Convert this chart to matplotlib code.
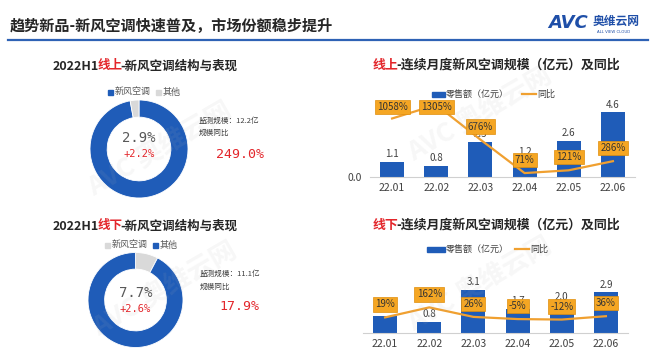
import matplotlib
matplotlib.use('Agg')
import matplotlib.pyplot as plt
from matplotlib.patches import Rectangle

plt.rcParams['font.family'] = ['Noto Sans CJK SC', 'DejaVu Sans']

# data
months = ['22.01', '22.02', '22.03', '22.04', '22.05', '22.06']
online_sales = [1.1, 0.8, 2.5, 1.2, 2.6, 4.6]
online_yoy = [1058, 1305, 676, 71, 121, 286]
offline_sales = [1.2, 0.8, 3.1, 1.7, 2.0, 2.9]
offline_yoy = [19, 162, 26, -5, -12, 36]

pie_labels = ['新风空调', '其他']
online_share = [97.1, 2.9]
offline_share = [7.7, 92.3]

blue = '#1F5CB8'
gray = '#D9D9D9'
orange = '#F0A030'
box_orange = '#F5A623'
red = '#E3262B'
dark = '#404040'

W, H = 660, 354
fig = plt.figure(figsize=(W / 100, H / 100), dpi=100)


def px_axes(x0, y0, x1, y1, **kw):
    return fig.add_axes([x0 / W, 1 - y1 / H, (x1 - x0) / W, (y1 - y0) / H], **kw)


# overlay in pixel coords for titles, legends, decorations
ov = px_axes(0, 0, W, H, zorder=10)
ov.set_xlim(0, W)
ov.set_ylim(H, 0)
ov.axis('off')
ov.patch.set_alpha(0)

# faint watermarks
for (wx, wy) in [(160, 150), (480, 115), (480, 285), (165, 290)]:
    ov.text(wx, wy, 'AVC 奥维云网', fontsize=19, color='#B0B0B0', alpha=0.1,
            rotation=30, ha='center', va='center', weight='bold', zorder=0)

# header
ov.text(10, 26, '趋势新品-新风空调快速普及，市场份额稳步提升', fontsize=10.9,
        weight='bold', color='#262626', va='center', ha='left')
ov.plot([8, 648], [40, 40], color='#2E62B5', lw=1.6)
ov.text(548, 23, 'AVC', fontsize=13, weight='bold', style='italic', color='#1F4FA8',
        va='center', ha='left', family='DejaVu Sans')
ov.text(593, 21, '奥维云网', fontsize=8.5, weight='bold', color='#1F4FA8',
        va='center', ha='left')
ov.text(614, 32, 'ALL VIEW CLOUD', fontsize=2.8, color='#1F4FA8', va='center', ha='center',
        family='DejaVu Sans')


def mixed_title(x, y, parts, size):
    prev = None
    for txt, col in parts:
        if prev is None:
            prev = ov.text(x, y, txt, fontsize=size, weight='bold', color=col,
                           ha='left', va='center')
        else:
            prev = ov.annotate(txt, xy=(1, 0), xycoords=prev, xytext=(-1.5, 0),
                               textcoords='offset points', fontsize=size,
                               weight='bold', color=col, ha='left', va='bottom')


def donut(cx, cy, r, shares, colors, center_txt, delta_txt, ty):
    ax = px_axes(cx - r, cy - r, cx + r, cy + r)
    ax.pie(shares, colors=colors, startangle=90, counterclock=False,
           wedgeprops=dict(width=0.35, edgecolor='white', linewidth=0.6))
    ax.set_xlim(-1, 1)
    ax.set_ylim(-1, 1)
    ov.text(cx, ty, center_txt, fontsize=10, color='#595959', ha='center', va='center',
            family='DejaVu Sans Mono')
    ov.text(cx, ty + 16, delta_txt, fontsize=7.5, color=red, ha='center', va='center',
            family='DejaVu Sans Mono')


def pie_legend(x, y, colors):
    xs = [x, x + 48]
    for xi, lab, col in zip(xs, pie_labels, colors):
        ov.add_patch(Rectangle((xi, y - 2.5), 5, 5, color=col))
        ov.text(xi + 7, y, lab, fontsize=6.5, color='#595959', ha='left', va='center')


# left: online donut
mixed_title(53, 66, [('2022H1', '#262626'), ('线上', red), ('-新风空调结构与表现', '#262626')], 9.0)
pie_legend(108, 92, [blue, gray])
donut(139, 149, 49, online_share, [blue, gray], '2.9%', '+2.2%', 138)
ov.text(199, 121, '监测规模：12.2亿', fontsize=5.5, color=dark, ha='left', va='center')
ov.text(199, 133, '规模同比', fontsize=5.5, color=dark, ha='left', va='center')
ov.text(240, 154, '249.0%', fontsize=9.5, color=red, ha='center', va='center',
        family='DejaVu Sans Mono')

# left: offline donut
mixed_title(53, 226, [('2022H1', '#262626'), ('线下', red), ('-新风空调结构与表现', '#262626')], 9.0)
pie_legend(105, 245, [gray, blue])
donut(135.5, 300, 47.5, offline_share, [gray, blue], '7.7%', '+2.6%', 293)
ov.text(200, 274, '监测规模：11.1亿', fontsize=5.5, color=dark, ha='left', va='center')
ov.text(200, 287, '规模同比', fontsize=5.5, color=dark, ha='left', va='center')
ov.text(239, 306, '17.9%', fontsize=9.5, color=red, ha='center', va='center',
        family='DejaVu Sans Mono')


def bar_line(box, sales, yoy, ylim1, ylim2, show_zero, lab_off, lab_cap):
    ax = px_axes(*box)
    x = list(range(len(months)))
    bars = ax.bar(x, sales, width=0.54, color=blue, zorder=2)
    ax.bar_label(bars, fmt='%.1f', padding=2, fontsize=7, color=dark)
    ax.set_xlim(-0.5, len(months) - 0.5)
    ax.set_ylim(*ylim1)
    ax.set_xticks(x)
    ax.set_xticklabels(months, fontsize=7.5, color=dark)
    ax.tick_params(axis='x', length=0, pad=4)
    if show_zero:
        ax.set_yticks([0])
        ax.set_yticklabels(['0.0'], fontsize=7.5, color=dark)
        ax.tick_params(axis='y', length=0, pad=6)
    else:
        ax.set_yticks([])
    for s in ['top', 'right', 'left']:
        ax.spines[s].set_visible(False)
    ax.spines['bottom'].set_color('#D0D0D0')
    ax.spines['bottom'].set_linewidth(0.8)
    ax.patch.set_alpha(0)

    ax2 = ax.twinx()
    ax2.plot(x, yoy, color=orange, lw=1.6, zorder=3)
    ax2.set_ylim(*ylim2)
    ax2.set_yticks([])
    for s in ax2.spines.values():
        s.set_visible(False)
    for xi, v in zip(x, yoy):
        ax2.text(xi, min(v + lab_off, lab_cap), f'{v}%', fontsize=7, color='#333333',
                 ha='center', va='center', zorder=5,
                 bbox=dict(boxstyle='square,pad=0.22', fc=box_orange, ec='#E08E0B', lw=0.5))
    return ax


def bar_legend(x, y, rect_w, line_x):
    ov.add_patch(Rectangle((x, y - 2.5), rect_w, 5, color=blue))
    ov.text(x + rect_w + 1, y, '零售额（亿元）', fontsize=6.5, color=dark, ha='left', va='center')
    ov.plot([line_x, line_x + 14], [y, y], color=orange, lw=1.6)
    ov.text(line_x + 15, y, '同比', fontsize=6.5, color=dark, ha='left', va='center')


# right: online bars
mixed_title(373, 65, [('线上', red), ('-连续月度新风空调规模（亿元）及同比', '#262626')], 9.3)
bar_legend(432, 94, 13, 522)
bar_line((370, 104, 635, 177), online_sales, online_yoy, (0, 5.2), (0, 1320), True, 235, 1265)

# right: offline bars
mixed_title(373, 225, [('线下', red), ('-连续月度新风空调规模（亿元）及同比', '#262626')], 9.3)
bar_legend(427, 249, 18, 515)
bar_line((363, 284, 628, 333), offline_sales, offline_yoy, (0, 3.5), (-204, 496), False, 185, 440)

fig.savefig('out.png', dpi=100, facecolor='white')
